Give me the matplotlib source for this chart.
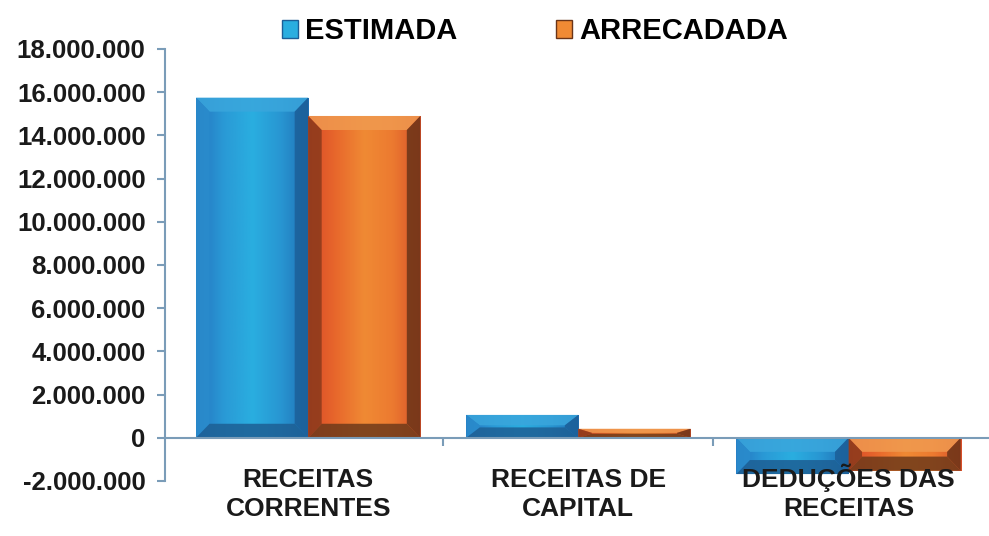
import matplotlib.pyplot as plt
import numpy as np
from matplotlib.patches import Rectangle, Polygon, Patch
from matplotlib.colors import LinearSegmentedColormap
from matplotlib.ticker import FuncFormatter
from matplotlib.transforms import blended_transform_factory

plt.rcParams['font.family'] = ['Liberation Sans', 'DejaVu Sans']
plt.rcParams['font.weight'] = 'bold'

categories = ['RECEITAS\nCORRENTES', 'RECEITAS DE\nCAPITAL', 'DEDUÇÕES DAS\nRECEITAS']
series_names = ['ESTIMADA', 'ARRECADADA']
estimada = [15750000, 1060000, -1680000]
arrecadada = [14900000, 420000, -1520000]
y_ticks = list(range(-2000000, 18000001, 2000000))

axis_col = '#7a9cb8'

# gradient across the face, then bevel colours (top, left, right, bottom)
styles = {
    'ESTIMADA': dict(
        face=['#2474c0', '#2a9ad6', '#2aaee0', '#2896d2', '#1f6fb4'],
        bevel=['#3aa6dc', '#2a8ccc', '#1c5f98', '#1d5f94']),
    'ARRECADADA': dict(
        face=['#d84a28', '#e8682c', '#f08a34', '#ec7a30', '#d8502a'],
        bevel=['#f09a50', '#8a3a1c', '#6a3418', '#6e3a1a']),
}


def bevel_bar(ax, x0, w, v, style, bx, by):
    lo, hi = min(0, v), max(0, v)
    cmap = LinearSegmentedColormap.from_list('f', style['face'])
    grad = np.linspace(0, 1, 256).reshape(1, -1)
    clip = Rectangle((x0, lo), w, hi - lo, transform=ax.transData)
    im = ax.imshow(grad, cmap=cmap, extent=(x0, x0 + w, lo, hi),
                   aspect='auto', zorder=2, interpolation='bicubic')
    im.set_clip_path(clip)
    by = min(by, (hi - lo) / 2.2)
    bx_ = min(bx, w / 2.2)
    x1 = x0 + w
    top, left, right, bottom = style['bevel']
    polys = [
        ([(x0, hi), (x1, hi), (x1 - bx_, hi - by), (x0 + bx_, hi - by)], top),
        ([(x0, lo), (x0, hi), (x0 + bx_, hi - by), (x0 + bx_, lo + by)], left),
        ([(x1, lo), (x1, hi), (x1 - bx_, hi - by), (x1 - bx_, lo + by)], right),
        ([(x0, lo), (x1, lo), (x1 - bx_, lo + by), (x0 + bx_, lo + by)], bottom),
    ]
    for pts, c in polys:
        ax.add_patch(Polygon(pts, closed=True, facecolor=c, edgecolor='none',
                             alpha=0.85, zorder=3))


fig = plt.figure(figsize=(9.89, 5.36), dpi=100)
ax = fig.add_axes([165 / 989, 1 - 481 / 536, 1 - 165 / 989, (481 - 49) / 536])

x = np.arange(len(categories))
bw = 0.415
for i in range(len(categories)):
    bevel_bar(ax, x[i] - bw, bw, estimada[i], styles['ESTIMADA'], 0.05, 650000)
    bevel_bar(ax, x[i], bw, arrecadada[i], styles['ARRECADADA'], 0.05, 650000)

ax.set_xlim(-0.53, 2.52)
ax.set_ylim(-2000000, 18000000)

for s in ['top', 'right']:
    ax.spines[s].set_visible(False)
ax.spines['left'].set_color(axis_col)
ax.spines['left'].set_linewidth(1.5)
ax.spines['bottom'].set_position(('data', 0))
ax.spines['bottom'].set_color(axis_col)
ax.spines['bottom'].set_linewidth(1.5)
ax.spines['bottom'].set_zorder(4)

ax.set_yticks(y_ticks)
ax.yaxis.set_major_formatter(FuncFormatter(lambda v, p: f'{v:,.0f}'.replace(',', '.')))
ax.tick_params(axis='y', colors=axis_col, length=6, width=1.5, labelsize=18.5,
               labelcolor='#1a1a1a', pad=8)

# category boundaries as small ticks on the zero line
ax.set_xticks([])
ax.set_xticks(np.arange(0.5, len(categories) - 1), minor=True)
ax.tick_params(axis='x', which='minor', colors=axis_col, length=6, width=1.5)

trans = blended_transform_factory(ax.transData, ax.transAxes)
for xi, lbl in zip(x, categories):
    ax.text(xi, -0.082, lbl, transform=trans, ha='center', va='baseline',
            fontsize=19, color='#1a1a1a', linespacing=1.3, zorder=5,
            clip_on=False)

handles = [Patch(facecolor=styles[n]['face'][2], edgecolor=styles[n]['bevel'][2])
           for n in series_names]
fig.legend(handles, series_names, loc='center', bbox_to_anchor=(0.541, 0.942),
           ncol=2, frameon=False, fontsize=21, handlelength=0.55, handleheight=0.55,
           handletextpad=0.25, columnspacing=3.4)

fig.savefig('out.png', dpi=100, facecolor='white')
